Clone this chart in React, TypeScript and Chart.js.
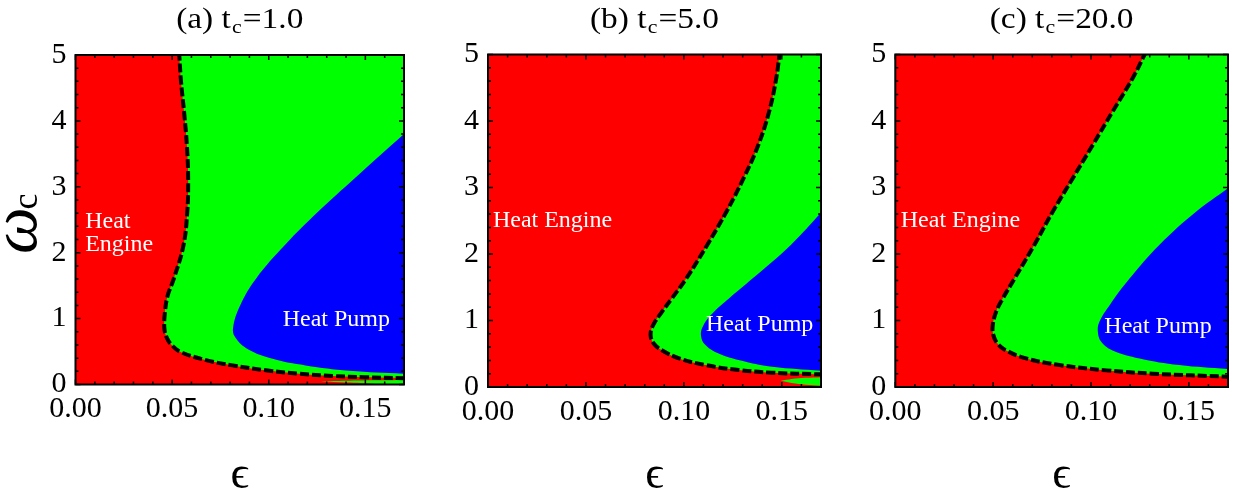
import React, { useEffect, useRef } from "react";
import { Chart, registerables } from "chart.js";

Chart.register(...registerables);

const SERIF = "'Liberation Serif', 'Times New Roman', Times, serif";

type P = [number, number];

// ---- axes ----
const X_MIN = 0;
const X_MAX = 0.17;
const Y_MIN = 0;
const Y_MAX = 5;
const xMajorTicks = [0, 0.05, 0.1, 0.15];
const yMajorTicks = [0, 1, 2, 3, 4, 5];
const xMinorStep = 0.01;
const yMinorStep = 0.2;

// ---- titles ----
const panelLetters = ["(a)", "(b)", "(c)"];
const tcValues = ["1.0", "5.0", "20.0"];

// ---- panel (a) t_c = 1.0 ----
const boundaryA: P[] = [
  [0.0537, 5.0], [0.0546, 4.6], [0.0563, 4.1], [0.0577, 3.6], [0.0583, 3.1],
  [0.0578, 2.6], [0.0558, 2.1], [0.0508, 1.6], [0.0477, 1.35], [0.0463, 1.1],
  [0.046, 0.85], [0.0474, 0.7], [0.05, 0.59], [0.0546, 0.49], [0.0675, 0.37],
  [0.0813, 0.29], [0.0985, 0.215], [0.1157, 0.165], [0.133, 0.13], [0.15, 0.11],
  [0.17, 0.095],
];
const pumpA: P[] = [
  [0.17, 3.8], [0.1445, 3.13], [0.1255, 2.62], [0.1085, 2.12], [0.0935, 1.61],
  [0.0852, 1.2], [0.0815, 0.85], [0.083, 0.7], [0.089, 0.54], [0.102, 0.39],
  [0.119, 0.29], [0.1416, 0.21], [0.17, 0.165],
];
const sliverTopA: P[] = [[0.127, 0.045], [0.14, 0.056], [0.155, 0.064], [0.17, 0.07]];
const sliverBottomA: P[] = [[0.127, 0.045], [0.14, 0.03], [0.155, 0.012], [0.17, 0.0]];

// ---- panel (b) t_c = 5.0 ----
const boundaryB: P[] = [
  [0.1488, 5.0], [0.1472, 4.65], [0.1436, 4.15], [0.138, 3.64], [0.1305, 3.14],
  [0.1218, 2.64], [0.112, 2.14], [0.1012, 1.63], [0.0938, 1.33], [0.0888, 1.13],
  [0.0843, 0.93], [0.083, 0.78], [0.0847, 0.65], [0.089, 0.55], [0.0975, 0.43],
  [0.111, 0.33], [0.128, 0.255], [0.145, 0.215], [0.17, 0.19],
];
const pumpB: P[] = [
  [0.17, 2.62], [0.1547, 2.14], [0.135, 1.63], [0.123, 1.33], [0.1154, 1.13],
  [0.11, 0.93], [0.1087, 0.78], [0.111, 0.63], [0.118, 0.5], [0.1316, 0.38],
  [0.145, 0.305], [0.17, 0.245],
];
const sliverTopB: P[] = [[0.1495, 0.095], [0.155, 0.122], [0.162, 0.138], [0.17, 0.148]];
const sliverBottomB: P[] = [[0.1495, 0.095], [0.155, 0.06], [0.162, 0.035], [0.17, 0.02]];

// ---- panel (c) t_c = 20.0 ----
const boundaryC: P[] = [
  [0.1274, 5.0], [0.1214, 4.65], [0.1112, 4.15], [0.1009, 3.64], [0.0907, 3.14],
  [0.0805, 2.64], [0.0711, 2.14], [0.0609, 1.63], [0.0549, 1.33], [0.0515, 1.13],
  [0.0498, 0.93], [0.0501, 0.78], [0.0523, 0.65], [0.0566, 0.55], [0.0668, 0.43],
  [0.0839, 0.33], [0.1078, 0.25], [0.1316, 0.2], [0.17, 0.155],
];
const pumpC: P[] = [
  [0.17, 2.99], [0.1538, 2.64], [0.135, 2.14], [0.1197, 1.63], [0.1095, 1.23],
  [0.1043, 0.98], [0.1035, 0.83], [0.1052, 0.68], [0.111, 0.55], [0.1248, 0.43],
  [0.145, 0.33], [0.17, 0.27],
];

// ---- region labels (data coordinates of first baseline start) ----
const engineLinesA = ["Heat", "Engine"];
const engineLinesBC = ["Heat Engine"];
const pumpLines = ["Heat Pump"];
const engineAnchor: P[] = [[0.005, 2.38], [0.0025, 2.4], [0.0028, 2.4]];
const pumpAnchor: P[] = [[0.1072, 0.888], [0.1113, 0.84], [0.1068, 0.81]];

const RED = "#ff0000";
const GREEN = "#00ff00";
const BLUE = "#0000ff";

// geometry helpers to close a region outside the plot frame (clipped away)
function extend(a: P, b: P, amount = 0.12): P {
  const sx = X_MAX - X_MIN;
  const sy = Y_MAX - Y_MIN;
  const dx = (b[0] - a[0]) / sx;
  const dy = (b[1] - a[1]) / sy;
  const len = Math.hypot(dx, dy) || 1;
  return [b[0] + (dx / len) * amount * sx, b[1] + (dy / len) * amount * sy];
}
function openCurve(c: P[]): P[] {
  const n = c.length;
  return [extend(c[1], c[0]), ...c, extend(c[n - 2], c[n - 1])];
}
function greenRegion(c: P[]): P[] {
  return [...openCurve(c), [X_MAX + 0.5 * (X_MAX - X_MIN), Y_MAX + 0.5 * (Y_MAX - Y_MIN)]];
}
function lens(top: P[], bottom: P[]): P[] {
  const nt = top.length;
  const nb = bottom.length;
  const rev = bottom.slice(1).reverse();
  return [...top, extend(top[nt - 2], top[nt - 1]), extend(bottom[nb - 2], bottom[nb - 1]), ...rev];
}
const toXY = (pts: P[]) => pts.map(([x, y]) => ({ x, y }));

interface PanelSpec {
  canvasLeft: number;
  canvasWidth: number;
  plotLeft: number;
  plotRight: number;
  plotTop: number;
  plotBottom: number;
  boundary: P[];
  pump: P[];
  sliverTop?: P[];
  sliverBottom?: P[];
  engineLines: string[];
  showYLabel: boolean;
}

const H = 493;
const PANELS: PanelSpec[] = [
  { canvasLeft: 0, canvasWidth: 440, plotLeft: 75.5, plotRight: 404, plotTop: 55, plotBottom: 384.5,
    boundary: boundaryA, pump: pumpA, sliverTop: sliverTopA, sliverBottom: sliverBottomA,
    engineLines: engineLinesA, showYLabel: true },
  { canvasLeft: 440, canvasWidth: 410, plotLeft: 488, plotRight: 821, plotTop: 54.5, plotBottom: 387,
    boundary: boundaryB, pump: pumpB, sliverTop: sliverTopB, sliverBottom: sliverBottomB,
    engineLines: engineLinesBC, showYLabel: false },
  { canvasLeft: 850, canvasWidth: 396, plotLeft: 895.3, plotRight: 1228, plotTop: 54.5, plotBottom: 387,
    boundary: boundaryC, pump: pumpC,
    engineLines: engineLinesBC, showYLabel: false },
];

function makeDecor(idx: number, spec: PanelSpec) {
  return {
    id: "decor" + idx,
    afterDatasetsDraw(chart: any) {
      const { ctx, chartArea } = chart;
      const { left, right, top, bottom } = chartArea;
      const xs = chart.scales.x;
      const ys = chart.scales.y;
      ctx.save();
      // region labels
      ctx.fillStyle = "#fff";
      ctx.font = `24px ${SERIF}`;
      ctx.textAlign = "left";
      ctx.textBaseline = "alphabetic";
      const ea = engineAnchor[idx];
      spec.engineLines.forEach((line, i) => {
        ctx.fillText(line, xs.getPixelForValue(ea[0]), ys.getPixelForValue(ea[1]) + i * 23);
      });
      const pa = pumpAnchor[idx];
      pumpLines.forEach((line, i) => {
        ctx.fillText(line, xs.getPixelForValue(pa[0]), ys.getPixelForValue(pa[1]) + i * 23);
      });
      // inward ticks on all sides
      ctx.strokeStyle = "#000";
      ctx.lineWidth = 1.5;
      ctx.beginPath();
      const nx = Math.round((X_MAX - X_MIN) / xMinorStep);
      for (let i = 0; i <= nx; i++) {
        const v = X_MIN + i * xMinorStep;
        const major = xMajorTicks.some((t) => Math.abs(t - v) < 1e-9);
        const len = major ? 5 : 3;
        const px = xs.getPixelForValue(v);
        ctx.moveTo(px, bottom);
        ctx.lineTo(px, bottom - len);
        ctx.moveTo(px, top);
        ctx.lineTo(px, top + len);
      }
      const ny = Math.round((Y_MAX - Y_MIN) / yMinorStep);
      for (let i = 0; i <= ny; i++) {
        const v = Y_MIN + i * yMinorStep;
        const major = yMajorTicks.some((t) => Math.abs(t - v) < 1e-9);
        const len = major ? 5 : 3;
        const py = ys.getPixelForValue(v);
        ctx.moveTo(left, py);
        ctx.lineTo(left + len, py);
        ctx.moveTo(right, py);
        ctx.lineTo(right - len, py);
      }
      ctx.stroke();
      // frame
      ctx.lineWidth = 2;
      ctx.strokeRect(left, top, right - left, bottom - top);
      ctx.restore();
    },
    afterDraw(chart: any) {
      const { ctx, chartArea } = chart;
      const { left, right, top, bottom } = chartArea;
      const cx = (left + right) / 2;
      ctx.save();
      ctx.fillStyle = "#000";
      ctx.textBaseline = "alphabetic";
      ctx.textAlign = "left";
      // title: (a) t_c=1.0
      const mainFont = `29px ${SERIF}`;
      const subFont = `19px ${SERIF}`;
      const stretch = 1.15;
      const p1 = panelLetters[idx] + " t";
      const p3 = "=" + tcValues[idx];
      ctx.font = mainFont;
      const w1 = ctx.measureText(p1).width;
      const w3 = ctx.measureText(p3).width;
      ctx.font = subFont;
      const w2 = ctx.measureText("c").width + 2;
      const total = (w1 + w2 + w3) * stretch;
      const ty = top - 27;
      ctx.translate(cx - total / 2, ty);
      ctx.scale(stretch, 1);
      ctx.font = mainFont;
      ctx.fillText(p1, 0, 0);
      ctx.font = subFont;
      ctx.fillText("c", w1 + 1, 5);
      ctx.font = mainFont;
      ctx.fillText(p3, w1 + w2, 0);
      ctx.restore();

      // x axis label
      ctx.save();
      ctx.fillStyle = "#000";
      ctx.font = `46px ${SERIF}`;
      ctx.textAlign = "center";
      ctx.textBaseline = "alphabetic";
      ctx.fillText("\u03f5", cx, H - 5);
      ctx.restore();

      if (spec.showYLabel) {
        ctx.save();
        ctx.fillStyle = "#000";
        const omegaFont = `italic 66px ${SERIF}`;
        const cFont = `36px ${SERIF}`;
        ctx.font = omegaFont;
        const wo = ctx.measureText("\u03c9").width;
        ctx.font = cFont;
        const wc = ctx.measureText("c").width;
        const cy = (top + bottom) / 2 + 3;
        ctx.translate(36, cy + (wo + wc) / 2);
        ctx.rotate(-Math.PI / 2);
        ctx.textBaseline = "alphabetic";
        ctx.textAlign = "left";
        ctx.font = omegaFont;
        ctx.fillText("\u03c9", 0, 0);
        ctx.font = cFont;
        ctx.fillText("c", wo - 2, 1);
        ctx.restore();
      }
    },
  };
}

function buildConfig(idx: number, spec: PanelSpec): any {
  const yAxisWidth = spec.plotLeft - spec.canvasLeft;
  const rightPad = spec.canvasLeft + spec.canvasWidth - spec.plotRight;
  const xAxisHeight = H - spec.plotBottom;
  const fillBase = {
    showLine: true,
    pointRadius: 0,
    pointHoverRadius: 0,
    borderWidth: 0,
    borderColor: "rgba(0,0,0,0)",
    fill: "shape",
    tension: 0.4,
    capBezierPoints: false,
  };
  const datasets: any[] = [
    {
      ...fillBase,
      label: "engine",
      data: toXY([[X_MIN, Y_MIN], [X_MIN, Y_MAX], [X_MAX, Y_MAX], [X_MAX, Y_MIN]]),
      backgroundColor: RED,
      tension: 0,
      order: 5,
    },
    {
      ...fillBase,
      label: "refrigerator",
      data: toXY(greenRegion(spec.boundary)),
      backgroundColor: GREEN,
      order: 4,
    },
    {
      ...fillBase,
      label: "pump",
      data: toXY(openCurve(spec.pump)),
      backgroundColor: BLUE,
      order: 3,
    },
  ];
  if (spec.sliverTop && spec.sliverBottom) {
    datasets.push({
      ...fillBase,
      label: "sliver",
      data: toXY(lens(spec.sliverTop, spec.sliverBottom)),
      backgroundColor: GREEN,
      order: 2,
    });
  }
  datasets.push({
    label: "boundary",
    showLine: true,
    pointRadius: 0,
    pointHoverRadius: 0,
    data: toXY(openCurve(spec.boundary)),
    borderColor: "#000",
    borderWidth: 4,
    borderDash: [9, 3],
    fill: false,
    tension: 0.4,
    capBezierPoints: false,
    clip: 0,
    order: 1,
  });

  return {
    type: "scatter",
    data: { datasets },
    options: {
      animation: false,
      responsive: false,
      maintainAspectRatio: false,
      devicePixelRatio: 1,
      events: [],
      layout: { padding: { left: 0, top: spec.plotTop, right: rightPad, bottom: 0 } },
      plugins: { legend: { display: false }, tooltip: { enabled: false }, title: { display: false } },
      scales: {
        x: {
          type: "linear",
          position: "bottom",
          min: X_MIN,
          max: X_MAX,
          grid: { display: false, drawTicks: false },
          border: { display: false },
          ticks: {
            color: "#000",
            font: { family: SERIF, size: 30 },
            padding: 7,
            maxRotation: 0,
            autoSkip: false,
            callback: (v: any) => Number(v).toFixed(2),
          },
          afterBuildTicks: (s: any) => {
            s.ticks = xMajorTicks.map((value) => ({ value }));
          },
          afterFit: (s: any) => {
            s.height = xAxisHeight;
          },
        },
        y: {
          type: "linear",
          position: "left",
          min: Y_MIN,
          max: Y_MAX,
          grid: { display: false, drawTicks: false },
          border: { display: false },
          ticks: {
            color: "#000",
            font: { family: SERIF, size: 30 },
            padding: 9,
            autoSkip: false,
            callback: (v: any) => String(v),
          },
          afterBuildTicks: (s: any) => {
            s.ticks = yMajorTicks.map((value) => ({ value }));
          },
          afterFit: (s: any) => {
            s.width = yAxisWidth;
          },
        },
      },
    },
    plugins: [makeDecor(idx, spec)],
  };
}

function Panel({ idx }: { idx: number }) {
  const ref = useRef<HTMLCanvasElement | null>(null);
  const spec = PANELS[idx];
  useEffect(() => {
    if (!ref.current) return;
    const chart = new Chart(ref.current, buildConfig(idx, spec));
    return () => chart.destroy();
  }, [idx]);
  return (
    <canvas
      ref={ref}
      width={spec.canvasWidth}
      height={H}
      style={{ position: "absolute", left: spec.canvasLeft, top: 0, width: spec.canvasWidth, height: H }}
    />
  );
}

export default function App() {
  return (
    <div style={{ position: "absolute", left: 0, top: 0, width: 1246, height: H, background: "#fff", overflow: "hidden" }}>
      {PANELS.map((_, i) => (
        <Panel key={i} idx={i} />
      ))}
    </div>
  );
}
